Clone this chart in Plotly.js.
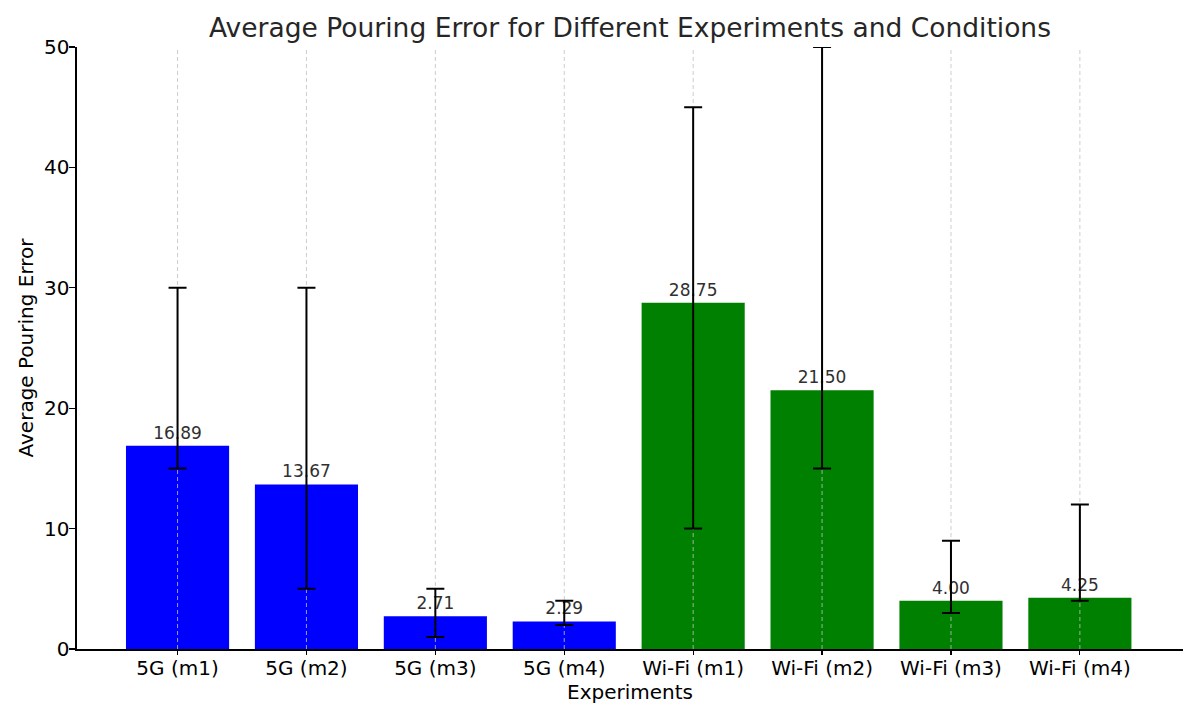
<!DOCTYPE html>
<html>
<head>
<meta charset="utf-8">
<script src="https://cdn.plot.ly/plotly-3.0.1.min.js"></script>
<style>html,body{margin:0;padding:0;background:#fff;}#chart{width:1200px;height:720px;}</style>
</head>
<body>
<div id="chart"></div>
<script>
const categories = ["5G (m1)", "5G (m2)", "5G (m3)", "5G (m4)", "Wi-Fi (m1)", "Wi-Fi (m2)", "Wi-Fi (m3)", "Wi-Fi (m4)"];
const meanError = [16.89, 13.67, 2.71, 2.29, 28.75, 21.50, 4.00, 4.25];
const minError = [15, 5, 1, 2, 10, 15, 3, 4];
const maxError = [30, 30, 5, 4, 45, 50, 9, 12];
const barColors = ["#0000ff", "#0000ff", "#0000ff", "#0000ff", "#008000", "#008000", "#008000", "#008000"];
const yTicks = [0, 10, 20, 30, 40, 50];
const yRange = [0, 50];

const font = "DejaVu Sans, sans-serif";

const bars = {
  type: "bar",
  x: categories,
  y: meanError,
  width: 0.8,
  marker: {color: barColors, line: {width: 0}},
  text: meanError.map(v => v.toFixed(2)),
  textposition: "outside",
  textfont: {family: font, size: 17, color: "#303030"},
  cliponaxis: false,
  hoverinfo: "x+y",
  showlegend: false
};

// vertical dashed grid lines drawn above bars but below error bars
const gx = [], gy = [];
categories.forEach(c => { gx.push(c, c, null); gy.push(yRange[0], yRange[1], null); });
const grid = {
  type: "scatter",
  mode: "lines",
  x: gx,
  y: gy,
  line: {color: "#c0c0c0", width: 0.8, dash: "4px,3px"},
  hoverinfo: "skip",
  showlegend: false
};

const errs = {
  type: "scatter",
  mode: "markers",
  x: categories,
  y: meanError,
  marker: {size: 0.1, color: "rgba(0,0,0,0)"},
  error_y: {
    type: "data",
    symmetric: false,
    array: maxError.map((m, i) => m - meanError[i]),
    arrayminus: meanError.map((v, i) => v - minError[i]),
    color: "#000",
    thickness: 2,
    width: 9
  },
  cliponaxis: false,
  hoverinfo: "skip",
  showlegend: false
};

const layout = {
  width: 1200,
  height: 720,
  paper_bgcolor: "#fff",
  plot_bgcolor: "#fff",
  margin: {l: 77, r: 17, t: 47, b: 71},
  font: {family: font, color: "#262626"},
  title: {
    text: "Average Pouring Error for Different Experiments and Conditions",
    font: {family: font, size: 26.5, color: "#262626"},
    x: 0.525, xanchor: "center", y: 0.962, yanchor: "middle"
  },
  xaxis: {
    type: "category",
    range: [-0.78, 7.8],
    showgrid: false,
    showline: true, linecolor: "#000", linewidth: 1.6,
    ticks: "outside", ticklen: 4, tickwidth: 1.2, tickcolor: "#000",
    ticklabelstandoff: -4,
    tickfont: {family: font, size: 20, color: "#000"},
    title: {text: "Experiments", font: {family: font, size: 20, color: "#000"}, standoff: 6},
    zeroline: false,
    fixedrange: true
  },
  yaxis: {
    range: yRange,
    tickvals: yTicks,
    showgrid: false,
    zeroline: false,
    showline: true, linecolor: "#000", linewidth: 1.6,
    ticks: "outside", ticklen: 6, tickwidth: 1.2, tickcolor: "#000",
    ticklabelstandoff: -4,
    tickfont: {family: font, size: 20, color: "#000"},
    title: {text: "Average Pouring Error", font: {family: font, size: 20, color: "#000"}, standoff: 5},
    fixedrange: true
  },
  bargap: 0.2
};

Plotly.newPlot("chart", [bars, grid, errs], layout, {displayModeBar: false, staticPlot: true});
</script>
</body>
</html>
